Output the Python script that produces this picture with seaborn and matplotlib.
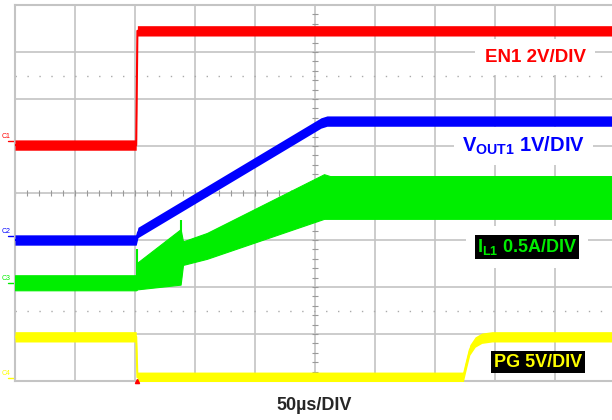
import numpy as np
import matplotlib.pyplot as plt
import seaborn as sns

# scope screen: x in divisions (50us/DIV), y in divisions from bottom of screen
en1_t = [0, 2.02, 2.04, 10]
en1_v = [5.02, 5.02, 7.45, 7.45]

vout_t = [0, 2.02, 2.05, 5.1, 5.2, 10]
vout_v = [3.0, 3.0, 3.16, 5.49, 5.53, 5.53]

il_t = [0, 2.02, 2.04, 2.76, 2.8, 3.2, 5.15, 5.25, 10]
il_hi = [2.25, 2.25, 2.52, 3.23, 2.97, 3.15, 4.4, 4.36, 4.36]
il_lo = [1.93, 1.93, 1.95, 2.05, 2.47, 2.6, 3.45, 3.45, 3.45]
il_spike_t = [2.03, 2.77]
il_spike_v = [2.8, 3.43]

pg_t = [0, 2.02, 2.04, 7.47, 7.52, 7.58, 7.67, 7.78, 7.95, 10]
pg_v = [0.94, 0.94, 0.08, 0.08, 0.35, 0.66, 0.83, 0.91, 0.94, 0.94]

red, blue, green, yellow = '#ff0000', '#0000ff', '#00ee00', '#ffff00'
grid_c = '#c4c4c4'
half = 0.11

sns.set_style('white')
plt.rcParams['font.family'] = ['Liberation Sans', 'DejaVu Sans']
plt.rcParams['mathtext.fontset'] = 'custom'
plt.rcParams['mathtext.bf'] = 'Liberation Sans:bold'
plt.rcParams['mathtext.rm'] = 'Liberation Sans:bold'

fig = plt.figure(figsize=(6.12, 4.2), dpi=100)
ax = fig.add_axes([15 / 612, 39 / 420, 597 / 612, 376 / 420])
ax.set_xlim(0, 597 / 60)
ax.set_ylim(0, 8)
ax.set_xticks([])
ax.set_yticks([])
for side, sp in ax.spines.items():
    sp.set_color(grid_c)
    sp.set_linewidth(1.5)
ax.spines['right'].set_visible(False)

# graticule
for gx in range(1, 10):
    ax.axvline(gx, color=grid_c, lw=1.2, zorder=1)
for gy in range(1, 8):
    ax.axhline(gy, color=grid_c, lw=1.2, zorder=1)
ax.vlines(np.arange(0, 10, 0.2), 4 - 0.06, 4 + 0.06, color='#999999', lw=0.8, zorder=1)
ax.hlines(np.arange(0, 8, 0.2), 5 - 0.05, 5 + 0.05, color='#999999', lw=0.8, zorder=1)
for gy in [6.5, 1.5]:
    ax.axhline(gy, color='#aaaaaa', lw=1, ls=(0, (1, 7.6)), zorder=1)

# traces
for t, v, c, z in [(pg_t, pg_v, yellow, 3), (vout_t, vout_v, blue, 5), (en1_t, en1_v, red, 6)]:
    v = np.array(v)
    ax.fill_between(t, v - half, v + half, color=c, lw=0, zorder=z)
    sns.lineplot(x=t, y=v, sort=False, estimator=None, color=c, lw=1.5, ax=ax, zorder=z)

ax.fill_between(il_t, il_lo, il_hi, color=green, lw=0.8, edgecolor=green, zorder=4)
ax.vlines(il_spike_t, 2.2, il_spike_v, color=green, lw=1.5, zorder=4)

# channel markers at left edge
for txt, y, c in [('C1', 5.13, red), ('C2', 3.1, blue), ('C3', 2.1, green), ('C4', 0.08, yellow)]:
    ax.text(-0.15, y, txt, color=c, fontsize=5, ha='center', va='bottom', clip_on=False)
    ax.plot([-0.12, 0], [y - 0.02, y - 0.02], color=c, lw=1, clip_on=False)
ax.plot([2.03], [0.0], marker='^', color=red, ms=3, clip_on=False, zorder=7)

# labels
ax.text(8.67, 6.89, 'EN1 2V/DIV', color=red, fontsize=13.5, fontweight='bold', ha='center', va='center',
        bbox=dict(facecolor='white', edgecolor='none', boxstyle='square,pad=0.5'), zorder=8)
ax.text(8.47, 5.0, r'$\mathbf{V_{OUT1}}$ 1V/DIV', color=blue, fontsize=14.5, fontweight='bold', ha='center',
        va='center', bbox=dict(facecolor='white', edgecolor='none', boxstyle='square,pad=0.4'), zorder=8)
il_label = r'$\mathbf{I_{L1}}$ 0.5A/DIV'
ax.text(8.53, 2.85, il_label, color='white', fontsize=13, fontweight='bold', ha='center', va='center',
        bbox=dict(facecolor='white', edgecolor='none', boxstyle='square,pad=0.6'), zorder=8)
ax.text(8.53, 2.85, il_label, color=green, fontsize=13, fontweight='bold', ha='center', va='center',
        bbox=dict(facecolor='black', edgecolor='none', boxstyle='square,pad=0.1'), zorder=9)
ax.text(8.72, 0.40, 'PG 5V/DIV', color=yellow, fontsize=13, fontweight='bold', ha='center', va='center',
        bbox=dict(facecolor='black', edgecolor='none', boxstyle='square,pad=0.15'), zorder=9)

fig.text(314 / 612, 1 - 405 / 420, '50µs/DIV', fontsize=13, fontweight='bold', ha='center', va='center')

fig.savefig('out.png', dpi=100)
